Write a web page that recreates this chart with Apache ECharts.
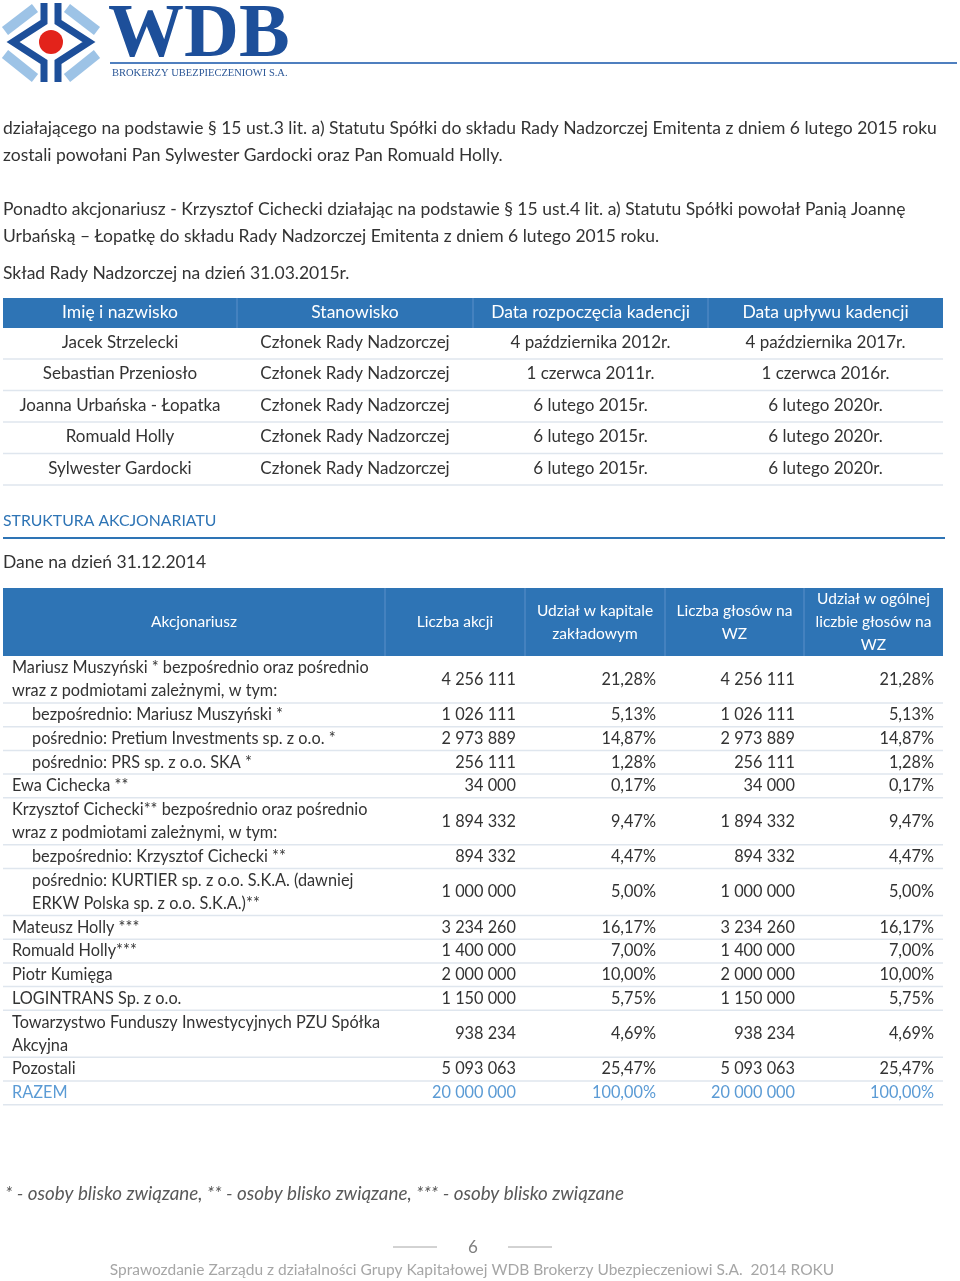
<!DOCTYPE html>
<html><head><meta charset="utf-8">
<script src="https://cdn.jsdelivr.net/npm/echarts@6/dist/echarts.min.js"></script>
<style>html,body{margin:0;padding:0;background:#fff}#c{width:960px;height:1281px}</style>
</head><body><div id="c"></div>
<script>
// ---------- data ----------
const paragraphLines = [
  "działającego na podstawie § 15 ust.3 lit. a) Statutu Spółki do składu Rady Nadzorczej Emitenta z dniem 6 lutego 2015 roku",
  "zostali powołani Pan Sylwester Gardocki oraz Pan Romuald Holly.",
  "Ponadto akcjonariusz - Krzysztof Cichecki działając na podstawie § 15 ust.4 lit. a) Statutu Spółki powołał Panią Joannę",
  "Urbańską – Łopatkę do składu Rady Nadzorczej Emitenta z dniem 6 lutego 2015 roku.",
  "Skład Rady Nadzorczej na dzień 31.03.2015r."
];
const boardHeaders = ["Imię i nazwisko", "Stanowisko", "Data rozpoczęcia kadencji", "Data upływu kadencji"];
const boardNames = ["Jacek Strzelecki", "Sebastian Przeniosło", "Joanna Urbańska - Łopatka", "Romuald Holly", "Sylwester Gardocki"];
const boardPositions = ["Członek Rady Nadzorczej", "Członek Rady Nadzorczej", "Członek Rady Nadzorczej", "Członek Rady Nadzorczej", "Członek Rady Nadzorczej"];
const boardStart = ["4 października 2012r.", "1 czerwca 2011r.", "6 lutego 2015r.", "6 lutego 2015r.", "6 lutego 2015r."];
const boardEnd = ["4 października 2017r.", "1 czerwca 2016r.", "6 lutego 2020r.", "6 lutego 2020r.", "6 lutego 2020r."];

const sectionTitle = "STRUKTURA AKCJONARIATU";
const dataDate = "Dane na dzień 31.12.2014";
const shareHeaders = ["Akcjonariusz", "Liczba akcji", "Udział w kapitale\nzakładowym", "Liczba głosów na\nWZ", "Udział w ogólnej\nliczbie głosów na\nWZ"];
const holderNames = [
  "Mariusz Muszyński * bezpośrednio oraz pośrednio\nwraz z podmiotami zależnymi, w tym:",
  "bezpośrednio: Mariusz Muszyński *",
  "pośrednio: Pretium Investments sp. z o.o. *",
  "pośrednio: PRS sp. z o.o. SKA *",
  "Ewa Cichecka **",
  "Krzysztof Cichecki** bezpośrednio oraz pośrednio\nwraz z podmiotami zależnymi, w tym:",
  "bezpośrednio: Krzysztof Cichecki **",
  "pośrednio: KURTIER sp. z o.o. S.K.A. (dawniej\nERKW Polska sp. z o.o. S.K.A.)**",
  "Mateusz Holly ***",
  "Romuald Holly***",
  "Piotr Kumięga",
  "LOGINTRANS Sp. z o.o.",
  "Towarzystwo Funduszy Inwestycyjnych PZU Spółka\nAkcyjna",
  "Pozostali",
  "RAZEM"
];
const holderIndent = [0, 1, 1, 1, 0, 0, 1, 1, 0, 0, 0, 0, 0, 0, 0];
const shareCounts = [4256111, 1026111, 2973889, 256111, 34000, 1894332, 894332, 1000000, 3234260, 1400000, 2000000, 1150000, 938234, 5093063, 20000000];
const capitalShare = [21.28, 5.13, 14.87, 1.28, 0.17, 9.47, 4.47, 5.00, 16.17, 7.00, 10.00, 5.75, 4.69, 25.47, 100.00];
const voteCounts = [4256111, 1026111, 2973889, 256111, 34000, 1894332, 894332, 1000000, 3234260, 1400000, 2000000, 1150000, 938234, 5093063, 20000000];
const voteShare = [21.28, 5.13, 14.87, 1.28, 0.17, 9.47, 4.47, 5.00, 16.17, 7.00, 10.00, 5.75, 4.69, 25.47, 100.00];

const footnote = "* - osoby blisko związane, ** - osoby blisko związane, *** - osoby blisko związane";
const pageNumber = "6";
const footerText = "Sprawozdanie Zarządu z działalności Grupy Kapitałowej WDB Brokerzy Ubezpieczeniowi S.A.  2014 ROKU";
const logoTitle = "WDB";
const logoSubtitle = "BROKERZY UBEZPIECZENIOWI S.A.";

// ---------- styles ----------
const FF = "Lato";
const FW = 400;
const TXT = "#333333";
const BLUE = "#2e74b5";
const SEP = "#dfe6ee";

function fmtInt(n) { return String(n).replace(/\B(?=(\d{3})+(?!\d))/g, " "); }
function fmtPct(v) { return v.toFixed(2).replace(".", ",") + "%"; }
function txt(x, y, s, o) {
  o = o || {};
  return { type: "text", x: x, y: y, silent: true, style: {
    text: s, fill: o.fill || TXT, fontFamily: o.ff || FF, fontWeight: o.fw || FW,
    fontStyle: o.fs || "normal", fontSize: o.size || 16.5, align: o.align || "left",
    verticalAlign: "middle", lineHeight: o.lh || 23 } };
}
function rect(x, y, w, h, fill) { return { type: "rect", silent: true, shape: { x: x, y: y, width: w, height: h }, style: { fill: fill } }; }
function line(x1, y1, x2, y2, stroke, lw) { return { type: "line", silent: true, shape: { x1: x1, y1: y1, x2: x2, y2: y2 }, style: { stroke: stroke, lineWidth: lw || 1 } }; }

const els = [];

// ---------- logo ----------
const LB = "#9dc3e6", DB = "#1d4f9a";
[[[5, 31], [35, 8]], [[5, 54], [35, 78]], [[67, 8], [97, 31]], [[67, 78], [97, 54]]].forEach(p =>
  els.push({ type: "polyline", silent: true, shape: { points: p }, style: { stroke: LB, lineWidth: 10, fill: null } }));
els.push({ type: "polyline", silent: true, shape: { points: [[44, 3], [44, 22], [13, 42], [44, 62], [44, 82]] }, style: { stroke: DB, lineWidth: 7, fill: null, lineJoin: "miter" } });
els.push({ type: "polyline", silent: true, shape: { points: [[58, 3], [58, 22], [89, 42], [58, 62], [58, 82]] }, style: { stroke: DB, lineWidth: 7, fill: null, lineJoin: "miter" } });
els.push({ type: "circle", silent: true, shape: { cx: 51, cy: 42, r: 12 }, style: { fill: "#e3231b" } });
els.push(txt(108, 36, logoTitle, { ff: "Liberation Serif", fw: "bold", size: 76, fill: DB }));
els.push(line(110, 63, 957, 63, "#4f7fbf", 2));
els.push(txt(112, 73, logoSubtitle, { ff: "Liberation Serif", fw: "normal", size: 10.5, fill: "#2b5797" }));

// ---------- paragraphs ----------
const paraY = [128, 155, 209, 236, 273];
paragraphLines.forEach((s, i) => els.push(txt(3, paraY[i], s, { size: 17.5 })));

// ---------- board table ----------
const bX = [3, 237, 473, 708, 943];
const bCenters = bX.slice(0, 4).map((x, i) => (x + bX[i + 1]) / 2);
els.push(rect(3, 298, 940, 30, BLUE));
for (let i = 1; i < 4; i++) els.push(line(bX[i], 298, bX[i], 328, "#5b8fc9", 1));
boardHeaders.forEach((h, i) => els.push(txt(bCenters[i], 312, h, { fill: "#fff", size: 17.5, align: "center" })));
const bCols = [boardNames, boardPositions, boardStart, boardEnd];
for (let r = 0; r < boardNames.length; r++) {
  const top = 328 + r * 31.5;
  bCols.forEach((col, c) => els.push(txt(bCenters[c], top + 14.5, col[r], { size: 17, align: "center" })));
  els.push(line(3, top + 31, 943, top + 31, SEP, 1.5));
}

// ---------- shareholders ----------
els.push(txt(3, 521, sectionTitle, { fill: BLUE, size: 15.8 }));
els.push(line(3, 538, 945, 538, BLUE, 2));
els.push(txt(3, 562, dataDate, { size: 17.5 }));

const sX = [3, 385, 525, 665, 804, 943];
els.push(rect(3, 588, 940, 68, BLUE));
for (let i = 1; i < 5; i++) els.push(line(sX[i], 588, sX[i], 656, "#5b8fc9", 1));
shareHeaders.forEach((h, i) => els.push(txt((sX[i] + sX[i + 1]) / 2, 622, h, { fill: "#fff", size: 15.5, align: "center" })));

const rightEdges = [516, 656, 795, 934];
let y = 656;
holderNames.forEach((name, r) => {
  const lines = name.split("\n").length;
  const h = lines === 1 ? 23.7 : 47;
  const cy = y + h / 2;
  const isTotal = r === holderNames.length - 1;
  const col = isTotal ? "#5b9bd5" : TXT;
  els.push(txt(holderIndent[r] ? 32 : 12, cy, name, { size: 16.3, fill: col }));
  const vals = [fmtInt(shareCounts[r]), fmtPct(capitalShare[r]), fmtInt(voteCounts[r]), fmtPct(voteShare[r])];
  vals.forEach((v, c) => els.push(txt(rightEdges[c], cy, v, { size: 16.3, align: "right", fill: col })));
  y += h;
  els.push(line(3, y, 943, y, SEP, 1.5));
});

// ---------- footer ----------
els.push(txt(5, 1194, footnote, { fs: "italic", size: 18.8, fill: "#595959" }));
els.push(line(393, 1247, 437, 1247, "#a6a6a6", 1));
els.push(line(508, 1247, 552, 1247, "#a6a6a6", 1));
els.push(txt(473, 1248, pageNumber, { size: 17, align: "center", fill: "#7f7f7f" }));
els.push(txt(472, 1270, footerText, { size: 15.5, align: "center", fill: "#a6a6a6" }));

const chart = echarts.init(document.getElementById("c"), null, { renderer: "canvas", width: 960, height: 1281 });
chart.setOption({ backgroundColor: "#fff", animation: false, graphic: { elements: els } });
</script></body></html>
